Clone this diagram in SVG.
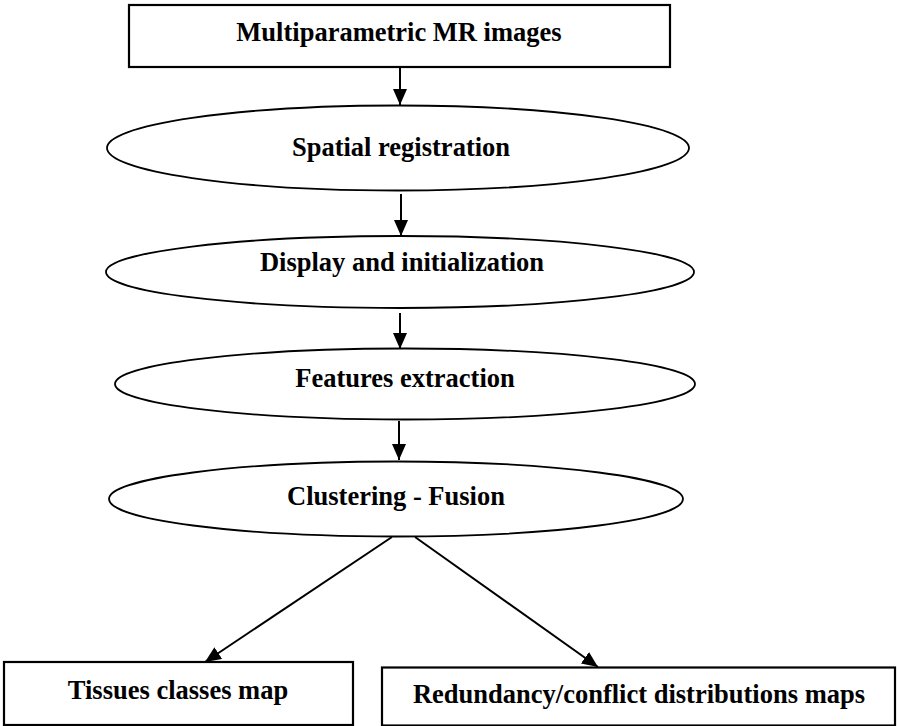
<svg xmlns="http://www.w3.org/2000/svg" width="897" height="726" viewBox="0 0 897 726">
  <defs>
    <marker id="arrow" markerUnits="userSpaceOnUse" markerWidth="16" markerHeight="14" refX="16" refY="7" orient="auto">
      <path d="M0,0 L16,7 L0,14 z" fill="#000"/>
    </marker>
    <style>
      .box { fill: #fff; stroke: #000; stroke-width: 2.2; }
      .ell { fill: #fff; stroke: #000; stroke-width: 1.8; }
      .lbl { font-family: "Liberation Serif", "Times New Roman", serif; font-weight: bold; font-size: 26.5px; fill: #000; text-anchor: middle; }
      .conn { stroke: #000; stroke-width: 2; fill: none; marker-end: url(#arrow); }
    </style>
  </defs>
  <rect width="897" height="726" fill="#fff"/>

  <g id="connectors">
    <line class="conn" x1="400" y1="67" x2="400" y2="105"/>
    <line class="conn" x1="401" y1="194" x2="401" y2="236"/>
    <line class="conn" x1="400" y1="313" x2="400" y2="349"/>
    <line class="conn" x1="399" y1="421" x2="399" y2="460"/>
    <line class="conn" x1="392" y1="537" x2="205" y2="662"/>
    <line class="conn" x1="415" y1="537" x2="598" y2="667"/>
  </g>

  <g id="n-mr-images">
    <rect class="box" x="129" y="5" width="541" height="62"/>
    <text class="lbl" x="399" y="41">Multiparametric MR images</text>
  </g>

  <g id="n-spatial">
    <ellipse class="ell" cx="398" cy="148" rx="291" ry="42.5"/>
    <text class="lbl" x="401" y="156">Spatial registration</text>
  </g>

  <g id="n-display">
    <ellipse class="ell" cx="400" cy="272" rx="294" ry="36"/>
    <text class="lbl" x="402" y="271">Display and initialization</text>
  </g>

  <g id="n-features">
    <ellipse class="ell" cx="405" cy="384" rx="290" ry="35.5"/>
    <text class="lbl" x="405" y="387">Features extraction</text>
  </g>

  <g id="n-clustering">
    <ellipse class="ell" cx="396" cy="499" rx="287" ry="37.5"/>
    <text class="lbl" x="396" y="505">Clustering - Fusion</text>
  </g>

  <g id="n-tissues">
    <rect class="box" x="4" y="662" width="349" height="63"/>
    <text class="lbl" x="178" y="699">Tissues classes map</text>
  </g>

  <g id="n-redundancy">
    <rect class="box" x="382" y="667.5" width="513" height="58"/>
    <text class="lbl" x="639" y="703">Redundancy/conflict distributions maps</text>
  </g>
</svg>
